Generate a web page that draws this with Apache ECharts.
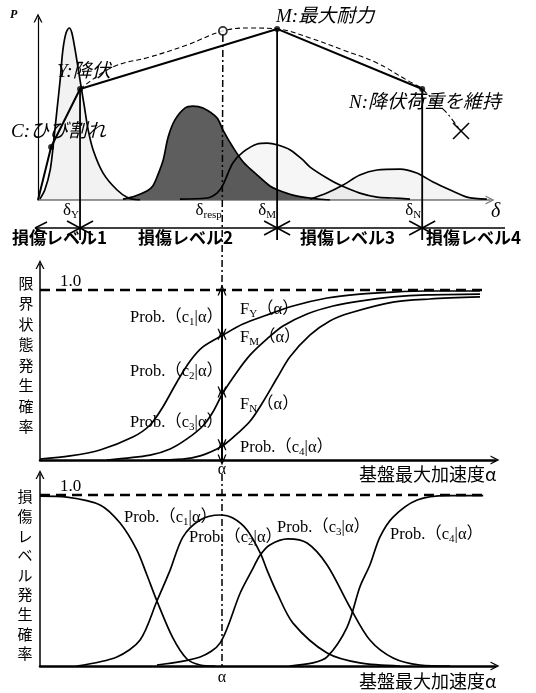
<!DOCTYPE html>
<html><head><meta charset="utf-8">
<script src="https://cdn.jsdelivr.net/npm/echarts@6/dist/echarts.min.js"></script>
<style>html,body{margin:0;padding:0;background:#fff}#c{width:536px;height:693px}</style>
</head><body><div id="c"></div>
<script>
// ---------- Top panel: load P vs deformation delta (units: delta 0..10, P 0..100) ----------
const skeleton = [[0,0],[0.29,29.1],[0.93,61.0],[5.29,94.0],[8.50,61.0]];          // O, C, Y, M, N
const skeletonPts = [[0.29,29.1],[0.93,61.0],[5.29,94.0],[8.50,61.0]];             // C, Y, M, N
const envelope = [[0.93,61.0],[1.66,73.1],[2.48,78.6],[3.30,85.2],[4.09,92.9],[4.69,94.5],[5.29,94.0],[6.02,89.0],[6.75,82.4],[7.50,75.3],[8.16,65.9],[8.50,61.5]];
const envelopeTail = [[8.50,61.0],[9.05,47.8],[9.36,37.9]];
const respPeak = [[4.09,92.9]];
const dist1 = [[0.04,0.5],[0.15,5.5],[0.27,16.5],[0.35,33.0],[0.42,49.5],[0.49,65.9],[0.55,82.4],[0.62,91.8],[0.69,94.5],[0.75,91.8],[0.84,79.7],[0.93,65.9],[1.02,52.2],[1.11,38.5],[1.22,27.5],[1.44,14.8],[1.75,5.5],[2.00,1.1],[2.26,0]];
const distResp = [[1.88,0.5],[2.15,2.2],[2.41,4.9],[2.54,7.7],[2.65,13.7],[2.77,22.0],[2.88,34.6],[3.03,44.0],[3.25,50.5],[3.43,51.6],[3.65,50.5],[3.96,45.1],[4.09,38.5],[4.31,29.1],[4.54,20.9],[4.85,13.7],[5.13,7.7],[5.31,5.5],[5.64,2.7],[6.02,1.1],[6.46,0]];
const dist3 = [[3.14,0.5],[3.74,1.1],[3.96,3.8],[4.09,8.2],[4.31,20.3],[4.54,26.4],[4.85,30.8],[5.07,31.3],[5.31,30.2],[5.58,27.5],[5.86,22.0],[6.02,18.1],[6.39,12.1],[6.68,8.2],[7.12,3.8],[7.50,1.6],[7.85,1.1],[8.23,0.5]];
const dist4 = [[6.02,0.5],[6.39,3.8],[6.75,8.2],[7.12,13.7],[7.50,16.5],[8.01,17.0],[8.38,14.8],[8.74,9.9],[9.12,5.5],[9.49,1.6],[9.93,0.5]];
const deltaY = 0.93, deltaResp = 4.09, deltaM = 5.29, deltaN = 8.50;

// ---------- Middle panel: limit-state exceedance probability vs alpha ----------
const FY = [[0,0.006],[0.66,0.024],[1.32,0.059],[2.04,0.135],[2.42,0.206],[2.70,0.312],[3.01,0.459],[3.30,0.582],[3.58,0.665],[4.02,0.735],[4.46,0.800],[4.99,0.853],[5.56,0.906],[6.31,0.953],[7.03,0.976],[7.76,0.988],[8.51,0.994],[9.67,0.994]];
const FM = [[1.47,0],[2.42,0.029],[2.86,0.065],[3.23,0.124],[3.58,0.200],[3.80,0.282],[4.02,0.394],[4.33,0.518],[4.62,0.618],[4.99,0.712],[5.34,0.788],[5.87,0.859],[6.44,0.906],[7.03,0.935],[7.76,0.959],[8.51,0.971],[9.67,0.976]];
const FN = [[2.42,0],[3.14,0.006],[3.52,0.024],[3.89,0.065],[4.07,0.094],[4.33,0.153],[4.62,0.229],[4.90,0.341],[5.21,0.482],[5.49,0.606],[5.93,0.735],[6.37,0.818],[6.81,0.865],[7.76,0.929],[8.57,0.947],[9.67,0.959]];
const alphaRef = 4.0;
const probSplit = [1.0, 0.74, 0.40, 0.09, 0];

// ---------- Bottom panel: damage-level probability vs alpha ----------
const P1 = [[0,0.994],[0.59,0.988],[1.32,0.942],[1.76,0.836],[2.13,0.678],[2.35,0.532],[2.57,0.380],[2.92,0.164],[3.23,0.041],[3.52,0.006],[3.85,0]];
const P2 = [[0.81,0],[1.69,0.053],[2.20,0.152],[2.57,0.380],[2.86,0.561],[3.14,0.754],[3.52,0.854],[3.96,0.883],[4.24,0.865],[4.55,0.795],[4.84,0.661],[4.99,0.561],[5.21,0.427],[5.56,0.251],[6.31,0.076],[7.03,0.018],[7.91,0]];
const P3 = [[2.57,0.006],[3.52,0.053],[3.96,0.135],[4.40,0.427],[4.66,0.561],[4.84,0.649],[5.05,0.708],[5.45,0.743],[5.87,0.719],[6.31,0.591],[6.81,0.345],[7.25,0.152],[7.76,0.047],[8.35,0.006],[9.01,0]];
const P4 = [[5.49,0],[6.00,0.018],[6.31,0.053],[6.75,0.228],[7.03,0.462],[7.25,0.591],[7.47,0.754],[7.76,0.871],[8.29,0.971],[8.95,0.997],[9.74,0.997]];
const unitLine = [[0,1.0],[9.82,1.0]];
const unitLabel = '1.0';

const SERIF = "'Liberation Serif','Noto Sans CJK JP',serif";
const JP = "'Noto Sans CJK JP',sans-serif";
const arrowPath = 'path://M5,0L10,10L8.5,10L5,3.2L1.5,10L0,10Z';

function axisX(g, max, color, width) {
  return {gridIndex:g, type:'value', min:0, max:max, axisLine:{show:true, onZero:false, symbol:['none',arrowPath], symbolSize:[9,11], lineStyle:{color:color, width:width}},
    axisTick:{show:false}, axisLabel:{show:false}, splitLine:{show:false}};
}
function axisY(g, max, width) {
  return {gridIndex:g, type:'value', min:0, max:max, axisLine:{show:true, onZero:false, symbol:['none',arrowPath], symbolSize:[9,11], lineStyle:{color:'#000', width:width}},
    axisTick:{show:false}, axisLabel:{show:false}, splitLine:{show:false}};
}
function ln(data, i, extra) {
  return Object.assign({type:'line', xAxisIndex:i, yAxisIndex:i, data:data, symbol:'none', showSymbol:false, smooth:0.3, silent:true,
    lineStyle:{color:'#000', width:1.7}, z:3}, extra || {});
}
const segs = [];
for (let k = 0; k < probSplit.length - 1; k++) segs.push([{coord:[alphaRef, probSplit[k]]},{coord:[alphaRef, probSplit[k+1]]}]);

const option = {
  animation:false,
  backgroundColor:'#fff',
  grid:[
    {left:38, top:18, width:452, height:182},
    {left:40, top:264.5, width:455, height:195.5},
    {left:40, top:474.5, width:455, height:191.5}
  ],
  xAxis:[axisX(0,10,'#777',1.6), axisX(1,10,'#000',2.5), axisX(2,10,'#000',2.5)],
  yAxis:[axisY(0,100,1.2), axisY(1,1.15,1.5), axisY(2,1.12,1.5)],
  series:[
    ln(distResp,0,{areaStyle:{color:'#5e5e5e', opacity:1}, z:2}),
    ln(dist1,0,{areaStyle:{color:'rgba(0,0,0,0.07)'}}),
    ln(dist3,0,{areaStyle:{color:'rgba(0,0,0,0.05)'}}),
    ln(dist4,0,{areaStyle:{color:'rgba(0,0,0,0.06)'}}),
    ln(skeleton,0,{smooth:false, lineStyle:{color:'#000', width:2}, z:5}),
    {type:'scatter', xAxisIndex:0, yAxisIndex:0, data:skeletonPts, symbol:'circle', symbolSize:6, itemStyle:{color:'#000'}, silent:true, z:6},
    ln(envelope,0,{smooth:0.4, lineStyle:{color:'#000', width:1.1, type:[5,3]}, z:4}),
    ln(envelopeTail,0,{smooth:false, lineStyle:{color:'#000', width:1.1, type:[6,3,2,3]}, z:4}),
    {type:'scatter', xAxisIndex:0, yAxisIndex:0, data:respPeak, symbol:'circle', symbolSize:8, itemStyle:{color:'#fff', borderColor:'#000', borderWidth:1.8}, silent:true, z:7},

    ln(FY,1,{markLine:{silent:true, symbol:[arrowPath,arrowPath], symbolSize:[9,11], label:{show:false}, lineStyle:{color:'#000', width:2, type:'solid'}, data:segs}}),
    ln(FM,1),
    ln(FN,1),
    ln(unitLine,1,{smooth:false, lineStyle:{color:'#000', width:2.5, type:[10,6]}}),

    ln(P1,2), ln(P2,2), ln(P3,2), ln(P4,2),
    ln(unitLine,2,{smooth:false, lineStyle:{color:'#000', width:2.5, type:[10,6]}})
  ]
};

const chart = echarts.init(document.getElementById('c'));
chart.setOption(option);

const p0 = (x,y) => chart.convertToPixel({gridIndex:0},[x,y]);
const p1 = (x,y) => chart.convertToPixel({gridIndex:1},[x,y]);
const p2 = (x,y) => chart.convertToPixel({gridIndex:2},[x,y]);

const G = [];
const L = (x1,y1,x2,y2,w,dash) => G.push({type:'line', silent:true, z:50, shape:{x1,y1,x2,y2}, style:{stroke:'#000', lineWidth:w||1.5, lineDash:dash||null}});
const T = (x,y,text,st) => G.push({type:'text', silent:true, z:60, x:x, y:y, style:Object.assign({text:text, fill:'#000', fontSize:15, fontFamily:SERIF, align:'left', verticalAlign:'middle'}, st||{})});

// vertical lines from Y, M, N down to level line
const levelY = 228;
[skeletonPts[1], skeletonPts[2], skeletonPts[3]].forEach(pt => { const q = p0(pt[0], pt[1]); L(q[0], q[1], q[0], levelY + 12, 1.8); });
// response dash-dot line
const rp = p0(respPeak[0][0], respPeak[0][1]);
const mTop = p1(alphaRef, 1.0), mBot = p1(alphaRef, 0), bBot = p2(alphaRef, 0);
L(rp[0], rp[1] + 4, mTop[0], mTop[1], 1.5, [7,3,2,3]);
L(bBot[0], mBot[1] + 14, bBot[0], bBot[1], 1.5, [7,3,2,3]);
// damage level line with crosses
const xLeft = 35, xRight = 505;
L(xLeft, levelY, xRight, levelY, 1.5);
L(xLeft, levelY, xLeft + 12, levelY - 6, 1.5); L(xLeft, levelY, xLeft + 12, levelY + 6, 1.5);
[deltaY, deltaM, deltaN].forEach(d => {
  const bx = p0(d, 0)[0];
  L(bx - 13, levelY - 7, bx + 13, levelY + 7, 1.5);
  L(bx - 13, levelY + 7, bx + 13, levelY - 7, 1.5);
});
// X mark at end of envelope
const xe = p0(envelopeTail[2][0], envelopeTail[2][1]);
L(xe[0] - 8, xe[1] - 8, xe[0] + 8, xe[1] + 8, 1.6);
L(xe[0] - 8, xe[1] + 8, xe[0] + 8, xe[1] - 8, 1.6);

// ---- texts, top
const IT = {fontStyle:'italic', fontSize:19, fontFamily:SERIF};
T(10, 15, 'P', {fontStyle:'italic', fontWeight:'bold', fontSize:12});
T(57, 72, 'Y:降伏', IT);
T(11, 132, 'C:ひび割れ', IT);
T(276, 17, 'M:最大耐力', IT);
T(349, 103, 'N:降伏荷重を維持', IT);
const dRich = {a:{fontSize:17, fontFamily:SERIF, lineHeight:20}, s:{fontSize:11, fontFamily:SERIF, lineHeight:11, verticalAlign:'bottom'}};
const dlab = (d, sub) => T(p0(d,0)[0] - 1, 211, '{a|δ}{s|' + sub + '}', {align:'right', fontSize:17, rich:dRich});
dlab(deltaY, 'Y'); dlab(deltaResp, 'resp'); dlab(deltaM, 'M'); dlab(deltaN, 'N');
T(491, 212, 'δ', {fontStyle:'italic', fontSize:20});
const LV = {fontSize:17, fontWeight:'bold', fontFamily:JP};
T(12, 238, '損傷レベル1', LV);
T(138, 238, '損傷レベル2', LV);
T(300, 238, '損傷レベル3', LV);
T(426, 238, '損傷レベル4', LV);

// ---- texts, middle
const VL = {fontSize:15, fontFamily:JP, align:'center', lineHeight:20.5};
T(26, 355, '限界状態発生確率'.split('').join('\n'), VL);
T(60, 282, unitLabel, {fontSize:17});
const pRich = {a:{fontSize:16.5, fontFamily:SERIF, lineHeight:19}, s:{fontSize:11, fontFamily:SERIF, lineHeight:11, verticalAlign:'bottom'}};
const prob = (i) => '{a|Prob.（c}{s|' + i + '}{a||α）}';
const PS = {fontSize:16.5, rich:pRich};
T(130, 318, prob(1), PS);
T(130, 372, prob(2), PS);
T(130, 423, prob(3), PS);
T(240, 448, prob(4), PS);
const fl = (s) => '{a|F}{s|' + s + '}{a|（α）}';
T(240, 310, fl('Y'), PS);
T(240, 338, fl('M'), PS);
T(240, 405, fl('N'), PS);
T(mBot[0], 470, 'α', {align:'center', fontSize:16});
T(359, 474, '基盤最大加速度α', {fontSize:18, fontFamily:JP});

// ---- texts, bottom
T(25, 575, '損傷レベル発生確率'.split('').join('\n'), Object.assign({}, VL, {lineHeight:19.6}));
T(60, 487, unitLabel, {fontSize:17});
T(124, 518, prob(1), PS);
T(189, 538, prob(2), PS);
T(277, 528, prob(3), PS);
T(390, 535, prob(4), PS);
T(bBot[0], 678, 'α', {align:'center', fontSize:16});
T(359, 681, '基盤最大加速度α', {fontSize:18, fontFamily:JP});

chart.setOption({graphic:G});
</script></body></html>
